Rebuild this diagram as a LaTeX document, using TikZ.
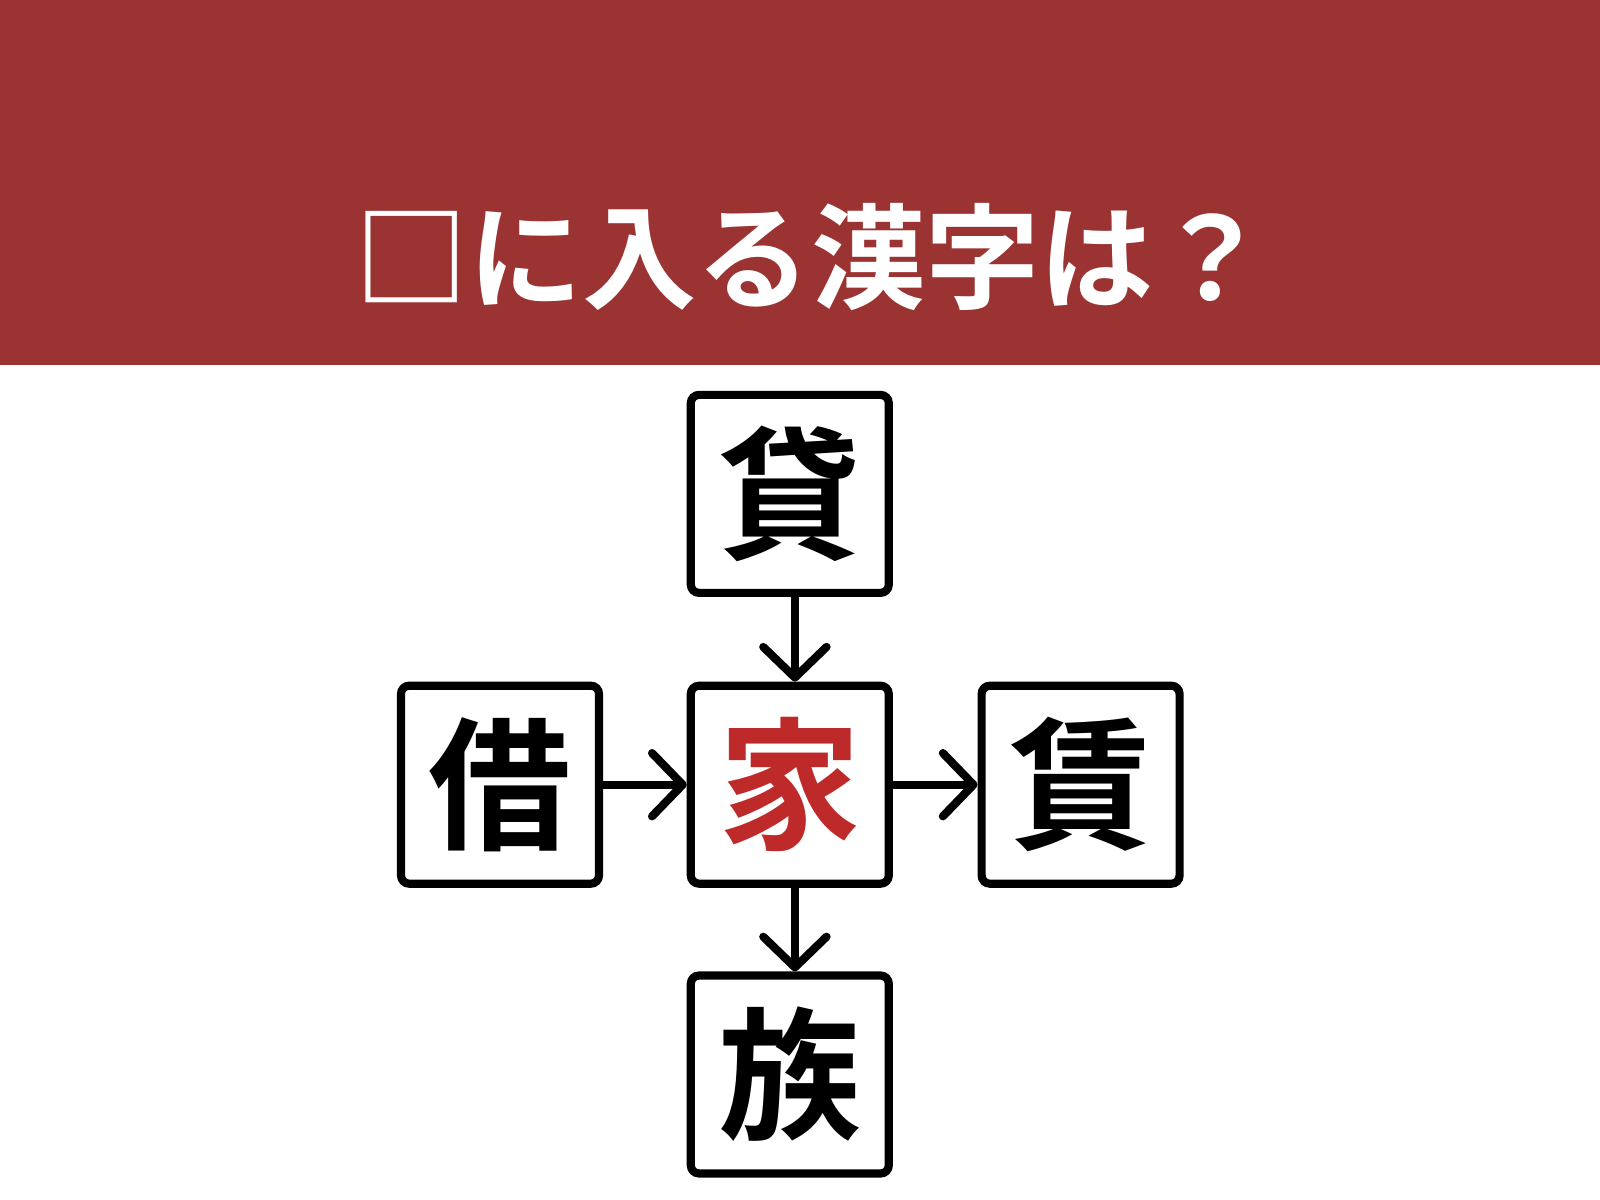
\documentclass[tikz,border=0pt]{standalone}
\usepackage{fontspec}
\newfontfamily\cjkb{Noto Sans CJK JP Bold}
\usetikzlibrary{arrows.meta}
\definecolor{band}{HTML}{9B3333}
\definecolor{kred}{HTML}{BE2A2A}
\begin{document}
\begin{tikzpicture}[x=0.5pt,y=-0.5pt,
  kbox/.style={draw=black,line width=4pt,rounded corners=4pt,minimum width=97pt,minimum height=97pt,inner sep=0pt,font=\cjkb\fontsize{70}{70}\selectfont},
  conn/.style={line width=4pt,line cap=round,-{Straight Barb[length=15pt,width=31pt,line cap=round,line join=round]}}]
\useasboundingbox (0,0) rectangle (1568,1176);
\fill[band] (0,0) rectangle (1568,358);
\node[text=white,font=\cjkb\fontsize{56}{56}\selectfont] (title) at (795,252) {□に入る漢字は？};
\node[kbox] (top) at (774,484) {貸};
\node[kbox,text=kred] (mid) at (774,769) {家};
\node[kbox] (left) at (490,769) {借};
\node[kbox] (right) at (1059,769) {賃};
\node[kbox] (bot) at (774,1053) {族};
\draw[conn] ([xshift=2.5pt]top.south) -- ([xshift=2.5pt]mid.north);
\draw[conn] ([xshift=2.5pt]mid.south) -- ([xshift=2.5pt]bot.north);
\draw[conn] (left.east) -- (mid.west);
\draw[conn] (mid.east) -- (right.west);
\end{tikzpicture}
\end{document}
